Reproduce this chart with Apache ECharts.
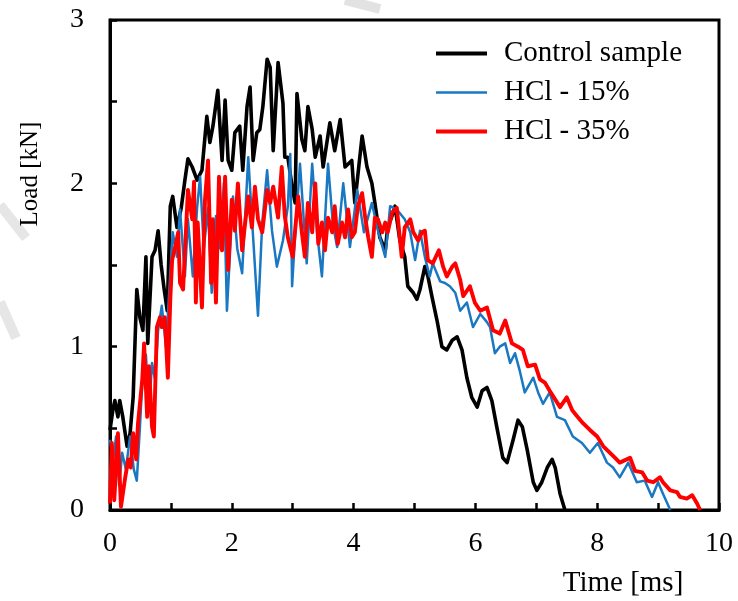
<!DOCTYPE html>
<html>
<head>
    <meta http-equiv="Content-Type" content="text/html; charset=UTF-8">
    <title>Load - time</title>
    <script src="https://cdn.jsdelivr.net/npm/echarts@6/dist/echarts.min.js"></script>
</head>
<body style="margin:0;background:#fff;">
<div id="loadChart" style="width: 738px; height: 601px;"></div>

<script type="text/javascript">
    // values, time in ms, load in kN
    var ctrlTime = [0.00,0.05,0.08,0.13,0.16,0.21,0.28,0.33,0.38,0.44,0.49,0.54,0.59,0.62,0.69,0.74,0.79,0.84,0.89,0.94,
        0.99,1.03,1.10,1.17,1.23,1.28,1.35,1.43,1.51,1.59,1.64,1.69,1.77,1.84,1.89,1.94,2.00,2.05,2.13,2.18,
        2.25,2.30,2.35,2.41,2.46,2.51,2.58,2.63,2.68,2.76,2.84,2.87,2.92,2.99,3.04,3.07,3.15,3.20,3.25,3.32,
        3.37,3.45,3.50,3.61,3.69,3.78,3.86,3.97,4.02,4.14,4.22,4.30,4.35,4.43,4.52,4.56,4.63,4.68,4.76,4.84,
        4.89,4.98,5.04,5.09,5.17,5.22,5.29,5.37,5.45,5.53,5.62,5.70,5.78,5.86,5.94,6.03,6.11,6.19,6.27,6.35,
        6.45,6.52,6.62,6.70,6.77,6.85,6.95,7.01,7.09,7.18,7.26,7.31,7.39,7.47];
    var ctrlLoad = [0.49,0.62,0.67,0.57,0.67,0.57,0.39,0.47,0.69,1.35,1.18,1.10,1.55,1.02,1.55,1.59,1.71,1.50,1.35,1.22,
        1.86,1.92,1.73,1.85,2.02,2.15,2.10,2.02,2.08,2.41,2.25,2.35,2.57,2.14,2.51,2.14,2.08,2.31,2.35,2.08,
        2.47,2.59,2.14,2.31,2.33,2.47,2.76,2.71,2.20,2.74,2.49,2.16,2.16,1.98,1.88,2.55,2.27,2.20,2.47,2.33,
        2.16,2.29,2.10,2.37,2.20,2.39,2.10,2.14,1.88,2.29,2.10,2.00,1.88,1.67,1.59,1.73,1.80,1.86,1.65,1.55,
        1.37,1.33,1.29,1.35,1.49,1.43,1.30,1.16,1.00,0.98,1.04,1.06,0.98,0.81,0.69,0.63,0.73,0.75,0.67,0.51,
        0.32,0.29,0.43,0.55,0.51,0.37,0.17,0.12,0.17,0.26,0.31,0.26,0.10,0.00];

    var hcl15Time = [0.00,0.05,0.10,0.15,0.20,0.26,0.33,0.39,0.44,0.49,0.54,0.59,0.64,0.69,0.74,0.79,0.85,0.92,0.99,1.03,
        1.10,1.15,1.23,1.28,1.36,1.43,1.48,1.54,1.61,1.67,1.74,1.81,1.87,1.92,2.02,2.09,2.17,2.27,2.33,2.43,
        2.50,2.58,2.66,2.74,2.84,2.92,2.96,2.99,3.05,3.12,3.23,3.32,3.40,3.48,3.58,3.66,3.73,3.83,3.94,4.06,
        4.17,4.30,4.40,4.52,4.60,4.71,4.84,4.93,5.01,5.09,5.17,5.25,5.30,5.42,5.50,5.58,5.67,5.75,5.86,5.96,
        6.08,6.19,6.24,6.32,6.40,6.49,6.57,6.65,6.73,6.81,6.95,7.03,7.11,7.22,7.34,7.47,7.60,7.75,7.88,8.01,
        8.16,8.26,8.37,8.51,8.65,8.78,8.90,9.00,9.08,9.20];
    var hcl15Load = [0.43,0.30,0.45,0.15,0.35,0.25,0.45,0.25,0.18,0.50,0.85,0.95,0.60,0.90,0.80,1.10,1.25,1.00,1.45,1.70,
        1.55,1.84,1.43,1.78,1.43,1.85,2.04,1.60,1.85,1.33,1.80,1.60,2.00,1.22,1.92,1.60,1.45,2.16,1.79,1.19,
        1.76,2.08,1.71,1.49,1.65,1.86,2.18,1.37,1.75,2.12,1.51,2.12,1.70,1.43,2.12,1.75,1.61,2.00,1.61,1.96,
        1.70,1.88,1.71,1.55,1.86,1.84,1.78,1.70,1.53,1.71,1.55,1.43,1.51,1.40,1.39,1.37,1.33,1.22,1.27,1.12,
        1.20,1.15,1.12,0.96,1.00,1.02,0.90,0.96,0.85,0.72,0.81,0.72,0.65,0.72,0.57,0.55,0.45,0.41,0.35,0.41,
        0.29,0.26,0.20,0.29,0.17,0.18,0.08,0.17,0.10,0.00];

    var hcl35Time = [0.00,0.03,0.07,0.13,0.18,0.25,0.30,0.34,0.38,0.43,0.46,0.53,0.56,0.61,0.64,0.69,0.72,0.77,0.82,0.85,
        0.90,0.95,0.99,1.02,1.07,1.12,1.15,1.20,1.28,1.35,1.38,1.41,1.44,1.51,1.56,1.61,1.66,1.69,1.74,1.79,
        1.84,1.89,1.94,2.00,2.05,2.10,2.17,2.22,2.27,2.33,2.38,2.43,2.50,2.58,2.63,2.68,2.76,2.82,2.87,2.92,
        3.00,3.09,3.15,3.20,3.25,3.32,3.37,3.42,3.48,3.53,3.58,3.65,3.69,3.74,3.81,3.86,3.91,3.97,4.02,4.07,
        4.14,4.19,4.24,4.30,4.35,4.40,4.47,4.52,4.56,4.63,4.71,4.79,4.84,4.93,4.98,5.06,5.12,5.17,5.22,5.30,
        5.40,5.47,5.53,5.62,5.67,5.75,5.80,5.91,5.99,6.08,6.19,6.29,6.40,6.49,6.60,6.70,6.78,6.86,6.98,7.06,
        7.14,7.22,7.39,7.50,7.59,7.68,7.77,7.88,8.00,8.10,8.21,8.29,8.37,8.54,8.62,8.74,8.82,8.92,9.03,9.08,
        9.20,9.31,9.36,9.47,9.56,9.64,9.69];
    var hcl35Load = [0.04,0.41,0.06,0.47,0.02,0.20,0.31,0.26,0.47,0.31,0.53,0.80,1.02,0.57,0.88,0.51,0.45,1.12,1.18,1.12,
        1.18,0.81,1.29,1.53,1.61,1.70,1.39,1.35,1.96,1.78,2.01,1.27,1.76,1.24,1.90,2.14,1.39,1.78,1.27,2.04,
        1.59,2.04,1.47,1.90,1.71,2.00,1.59,1.76,1.92,1.73,1.98,1.78,1.70,1.96,1.88,1.98,1.79,2.10,1.80,1.67,
        1.55,1.92,1.70,1.55,1.88,1.70,2.00,1.63,1.76,1.59,1.79,1.70,1.86,1.63,1.76,1.67,1.84,1.67,1.70,1.86,
        1.94,1.79,1.67,1.55,1.79,1.78,1.70,1.76,1.70,1.82,1.85,1.55,1.73,1.78,1.70,1.65,1.70,1.71,1.53,1.51,
        1.59,1.49,1.43,1.49,1.51,1.41,1.31,1.37,1.27,1.22,1.24,1.10,1.08,1.16,1.02,1.00,0.98,0.88,0.89,0.80,
        0.78,0.73,0.63,0.69,0.61,0.57,0.53,0.49,0.45,0.39,0.35,0.32,0.29,0.32,0.24,0.23,0.18,0.17,0.20,0.17,
        0.12,0.11,0.08,0.07,0.09,0.04,0.00];

    var seriesNames = ['Control sample', 'HCl - 15%', 'HCl - 35%'];

    function pairs(t, v) {
        var res = [];
        for (var i = 0; i < t.length; i++) {
            res.push([t[i], v[i]]);
        }
        return res;
    }

    var serif = '"Liberation Serif", "Times New Roman", serif';
    var thickIcon = 'path://M0,0L50,0L50,4L0,4Z';
    var thinIcon = 'path://M0,0L50,0L50,2.6L0,2.6Z';

    var loadChart = echarts.init(document.getElementById('loadChart'));

    loadChart.setOption({
        animation: false,
        backgroundColor: '#fff',
        grid: {
            left: 110, right: 19, top: 20, bottom: 91,
            show: true,
            borderColor: '#000',
            borderWidth: 3
        },
        legend: {
            orient: 'vertical',
            left: 431,
            top: 34,
            itemWidth: 51,
            itemHeight: 28,
            itemGap: 10,
            symbolKeepAspect: true,
            data: [
                {name: seriesNames[0], icon: thickIcon},
                {name: seriesNames[1], icon: thinIcon},
                {name: seriesNames[2], icon: thickIcon}
            ],
            textStyle: {
                fontFamily: serif,
                fontSize: 29,
                color: '#000',
                padding: [0, 0, 0, 12]
            }
        },
        xAxis: {
            type: 'value',
            min: 0,
            max: 10,
            interval: 1,
            splitLine: {show: false},
            axisLine: {lineStyle: {color: '#000', width: 3}},
            axisTick: {inside: true, length: 7, lineStyle: {color: '#000', width: 2.5}},
            axisLabel: {
                color: '#000',
                fontFamily: serif,
                fontSize: 28,
                margin: 20,
                formatter: function (v) { return v % 2 === 0 ? String(v) : ''; }
            }
        },
        yAxis: {
            type: 'value',
            min: 0,
            max: 3,
            interval: 0.5,
            splitLine: {show: false},
            axisLine: {lineStyle: {color: '#000', width: 3}},
            axisTick: {inside: true, length: 7, lineStyle: {color: '#000', width: 2.5}},
            axisLabel: {
                color: '#000',
                fontFamily: serif,
                fontSize: 28,
                margin: 26,
                formatter: function (v) { return v % 1 === 0 ? String(v) : ''; }
            }
        },
        graphic: [
            // faint grey watermark strokes
            {type: 'polyline', silent: true, z: -1, shape: {points: [[345, 0], [380, 9]]},
                style: {stroke: '#e2e2e2', lineWidth: 10, fill: null}},
            {type: 'polyline', silent: true, z: -1, shape: {points: [[0, 205], [26, 238]]},
                style: {stroke: '#e6e6e6', lineWidth: 10, fill: null}},
            {type: 'polyline', silent: true, z: -1, shape: {points: [[0, 302], [16, 338]]},
                style: {stroke: '#e6e6e6', lineWidth: 10, fill: null}},
            {type: 'text', x: 30, y: 174, rotation: Math.PI / 2,
                style: {text: 'Load [kN]', font: '25px ' + serif, fill: '#000',
                    textAlign: 'center', textVerticalAlign: 'middle'}},
            {type: 'text', x: 623, y: 583,
                style: {text: 'Time [ms]', font: '29px ' + serif, fill: '#000',
                    textAlign: 'center', textVerticalAlign: 'middle'}}
        ],
        series: [
            {
                name: seriesNames[0],
                type: 'line',
                symbol: 'none',
                z: 2,
                lineStyle: {color: '#000000', width: 3.6, join: 'round'},
                itemStyle: {color: '#000000'},
                data: pairs(ctrlTime, ctrlLoad)
            },
            {
                name: seriesNames[1],
                type: 'line',
                symbol: 'none',
                z: 3,
                lineStyle: {color: '#1a78c2', width: 2.5, join: 'round'},
                itemStyle: {color: '#1a78c2'},
                data: pairs(hcl15Time, hcl15Load)
            },
            {
                name: seriesNames[2],
                type: 'line',
                symbol: 'none',
                z: 4,
                lineStyle: {color: '#ff0000', width: 3.9, join: 'round'},
                itemStyle: {color: '#ff0000'},
                data: pairs(hcl35Time, hcl35Load)
            }
        ]
    });
</script>

</body>
</html>
